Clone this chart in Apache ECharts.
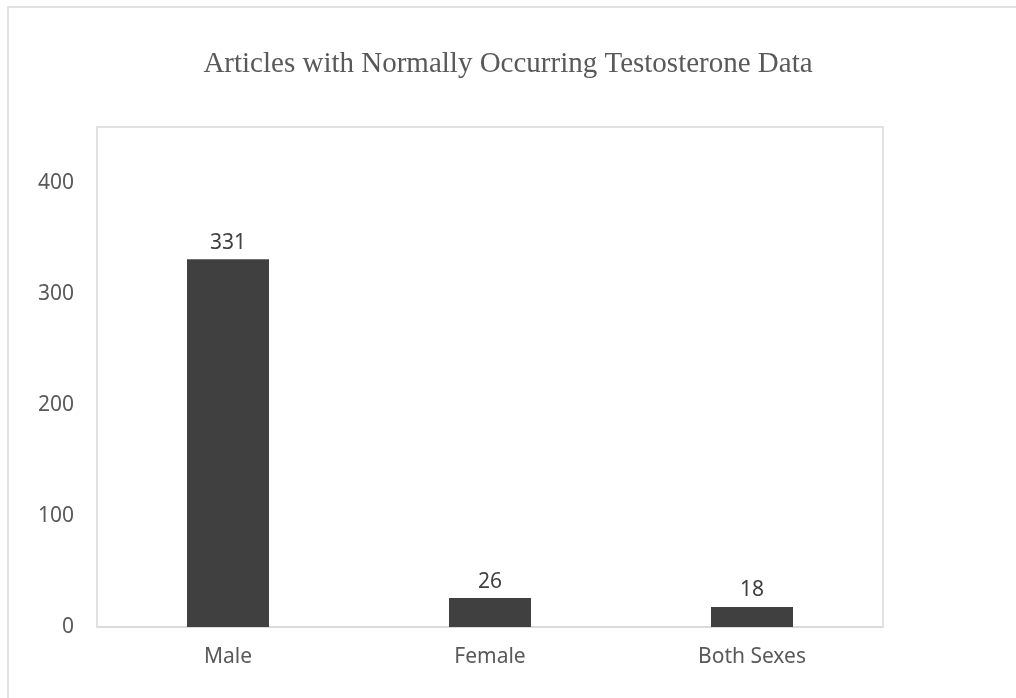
<!DOCTYPE html>
<html>
<head>
<meta charset="utf-8">
<title>Articles with Normally Occurring Testosterone Data</title>
<script src="https://cdn.jsdelivr.net/npm/echarts@6/dist/echarts.min.js"></script>
<style>
  html, body { margin: 0; padding: 0; background: #ffffff; }
  #chart { width: 1016px; height: 698px; }
</style>
</head>
<body>
<div id="chart"></div>
<script>
// Chart data
const chartTitle = 'Articles with Normally Occurring Testosterone Data';
const categories = ['Male', 'Female', 'Both Sexes'];
const articleCounts = [331, 26, 18];
const yTicks = { min: 0, max: 450, interval: 100 };

const chart = echarts.init(document.getElementById('chart'), null, { renderer: 'canvas' });

const textColor = '#595959';
const frameColor = '#d9d9d9';
const sansFont = '"Noto Sans", "Open Sans", sans-serif';

chart.setOption({
  backgroundColor: '#ffffff',
  animation: false,
  title: {
    text: chartTitle,
    left: 'center',
    top: 45,
    textStyle: {
      fontFamily: '"Liberation Serif", "DejaVu Serif", serif',
      fontSize: 29,
      fontWeight: 'normal',
      color: textColor
    }
  },
  graphic: [{
    type: 'rect',
    silent: true,
    shape: { x: 8, y: 7, width: 1100, height: 800 },
    style: { fill: 'none', stroke: frameColor, lineWidth: 1.5 }
  }],
  grid: {
    left: 97,
    right: 133,
    top: 127,
    bottom: 71,
    show: true,
    borderColor: frameColor,
    borderWidth: 1.5,
    backgroundColor: 'transparent'
  },
  xAxis: {
    type: 'category',
    data: categories,
    axisLine: { show: true, lineStyle: { color: frameColor, width: 1.5 } },
    axisTick: { show: false },
    axisLabel: {
      color: textColor,
      fontFamily: sansFont,
      fontSize: 21,
      margin: 20
    }
  },
  yAxis: {
    type: 'value',
    min: yTicks.min,
    max: yTicks.max,
    interval: yTicks.interval,
    axisLine: { show: false },
    axisTick: { show: false },
    splitLine: { show: false },
    axisLabel: {
      color: textColor,
      fontFamily: sansFont,
      fontSize: 21,
      margin: 23,
      showMaxLabel: false
    }
  },
  series: [{
    type: 'bar',
    data: articleCounts,
    barWidth: 82,
    itemStyle: { color: '#404040' },
    label: {
      show: true,
      position: 'top',
      distance: 6,
      color: '#404040',
      fontFamily: sansFont,
      fontSize: 21
    }
  }]
});
</script>
</body>
</html>
